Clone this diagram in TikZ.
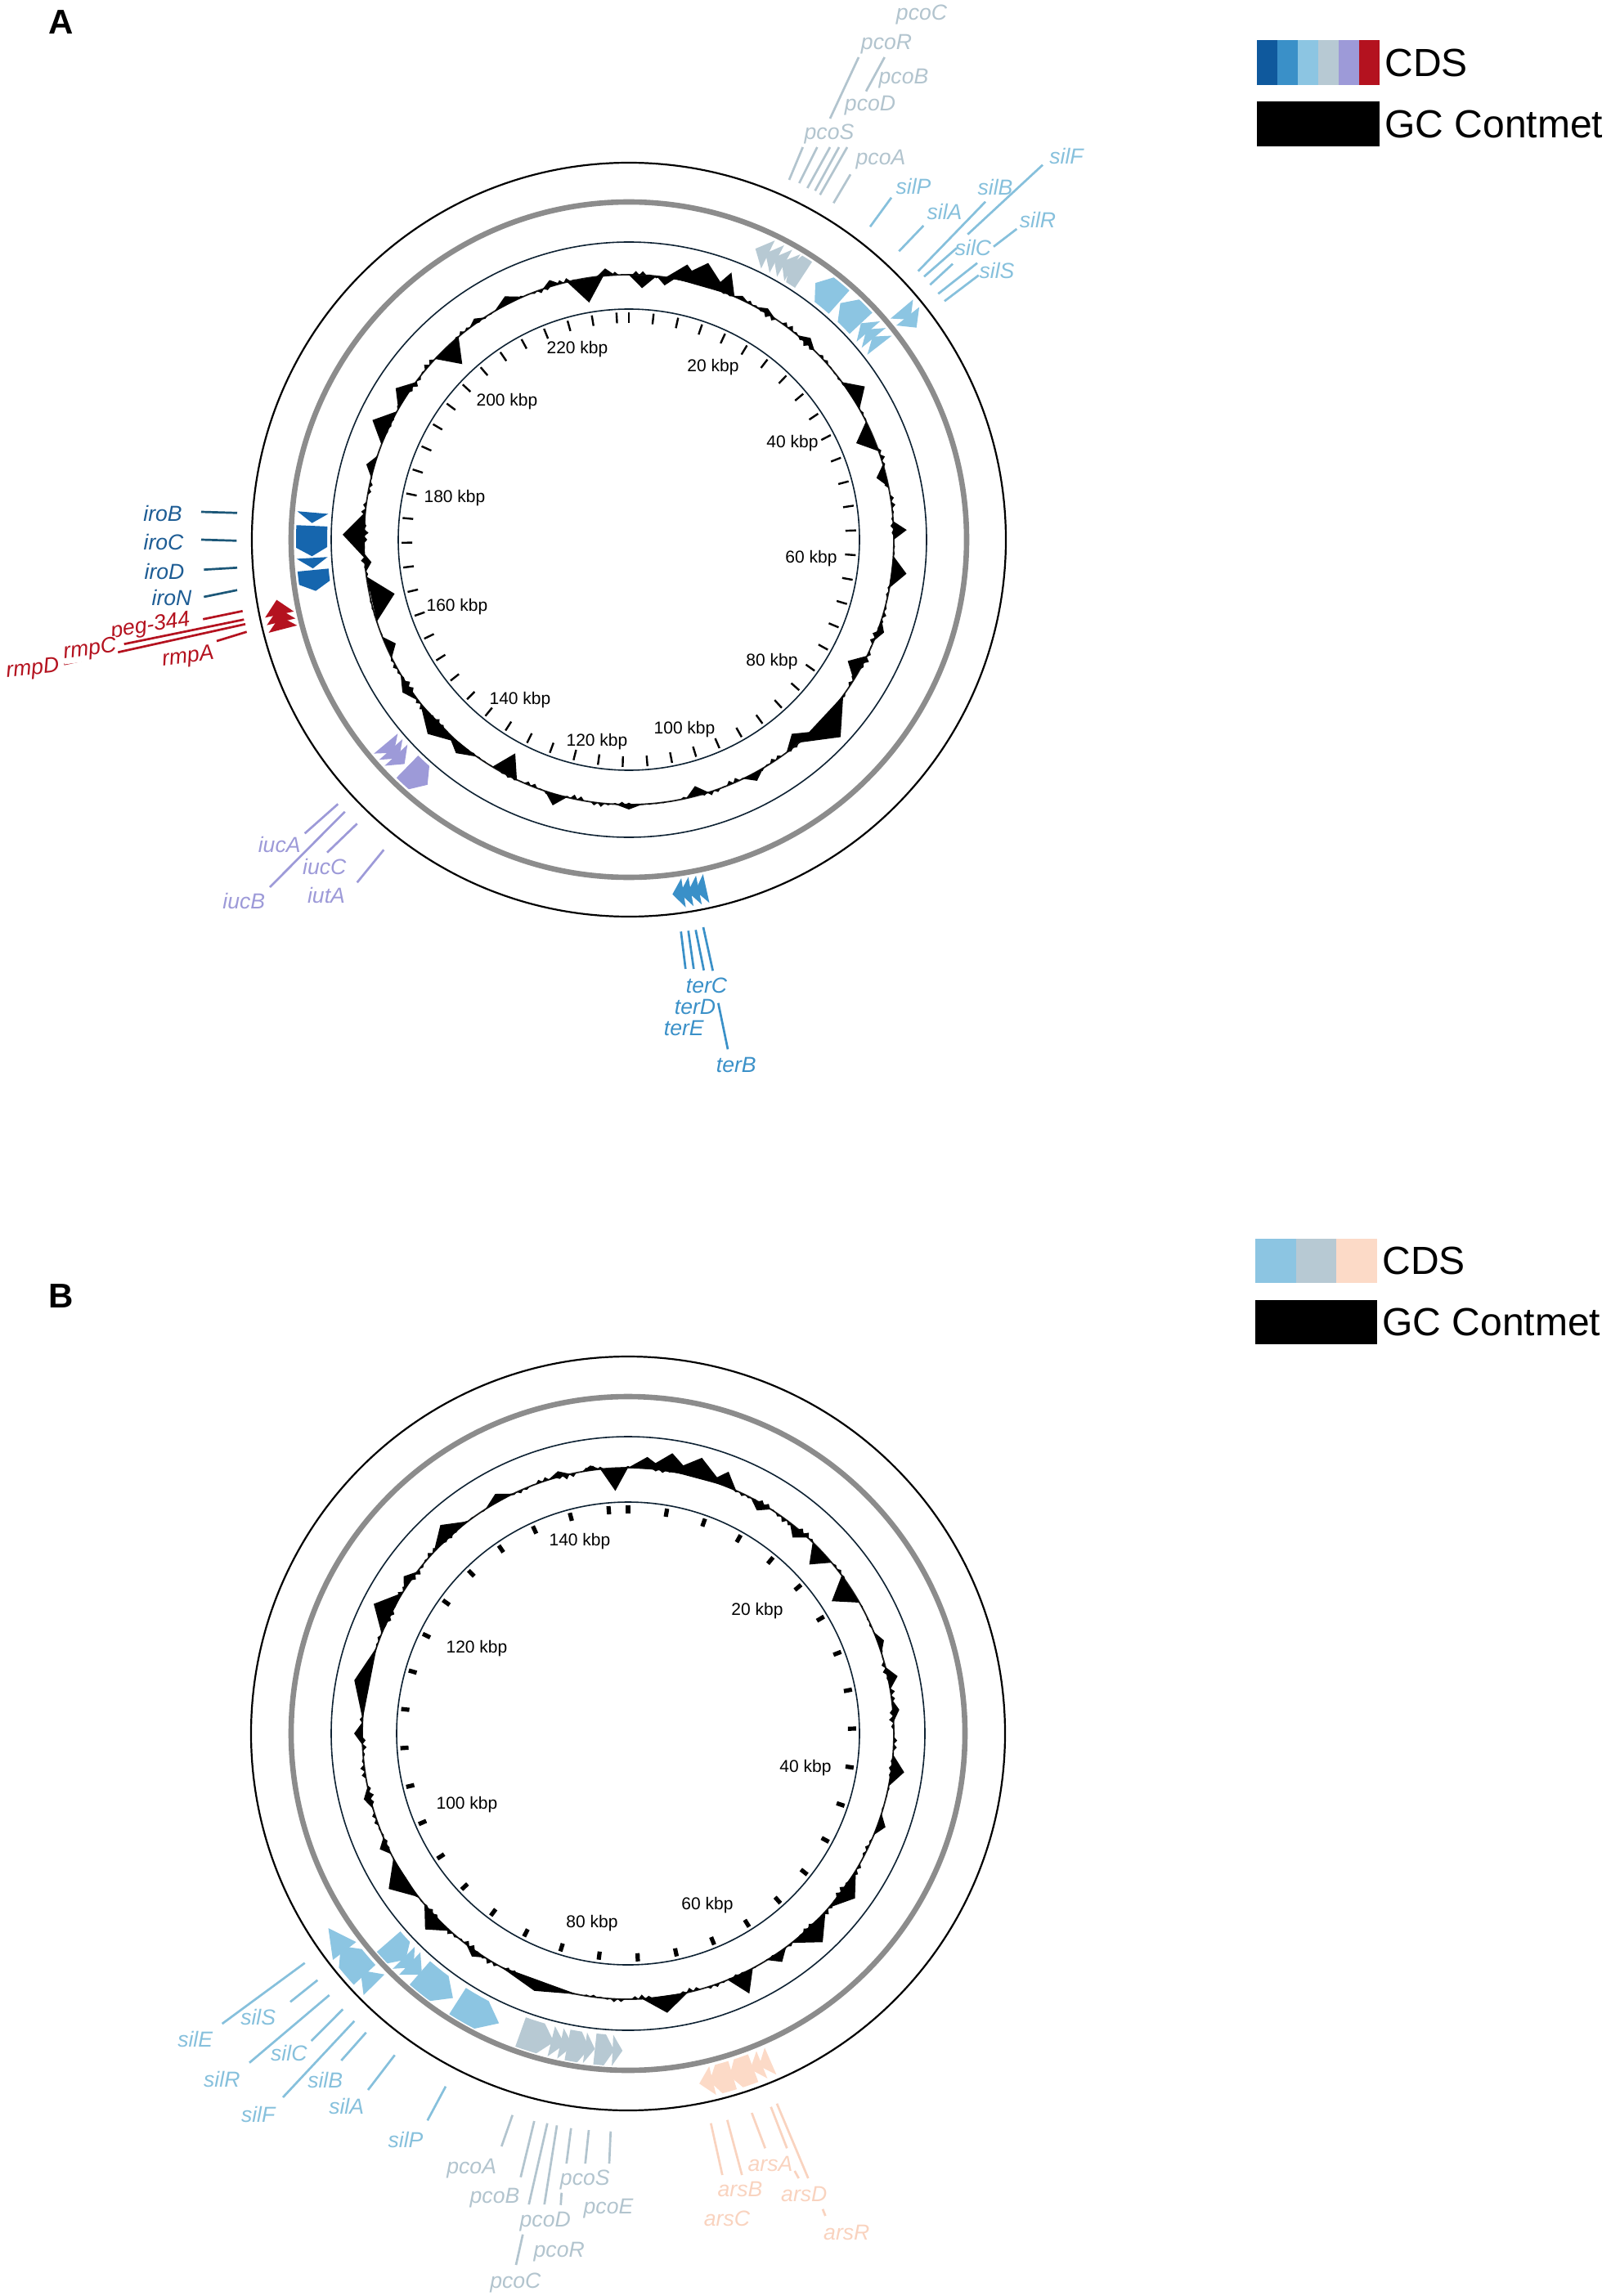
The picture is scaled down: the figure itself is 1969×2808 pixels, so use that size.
\documentclass[tikz,border=0pt]{standalone}
\usepackage{fontspec}
\setmainfont{Liberation Sans}
\definecolor{cIro}{HTML}{1666AE}
\definecolor{cIroT}{HTML}{1D5C94}
\definecolor{cIroL}{HTML}{1C5778}
\definecolor{cTer}{HTML}{3A90C8}
\definecolor{cSil}{HTML}{8CC5E2}
\definecolor{cSilT}{HTML}{86C0DC}
\definecolor{cPco}{HTML}{B7C9D3}
\definecolor{cPcoT}{HTML}{B2C4CE}
\definecolor{cIuc}{HTML}{9D9AD8}
\definecolor{cRmp}{HTML}{B4121F}
\definecolor{cArs}{HTML}{FCDAC7}
\definecolor{cArsT}{HTML}{F9D3BF}
\definecolor{cLeg1}{HTML}{0F599D}
\definecolor{cNavy}{HTML}{0E2233}
\definecolor{cGray}{HTML}{8C8C8C}
\newcommand\myArrow[6]{\fill[#1] plot[domain=#2:#4,samples=4] ({\x-90}:#6) -- ({#3-90}:{(#5+#6)/2}) -- plot[domain=#4:#2,samples=4] ({\x-90}:#5) -- cycle;}
\newcommand\myHead[5]{\fill[#1] ({#2-90}:#4) -- ({#2-90}:#5) -- ({#3-90}:{(#4+#5)/2}) -- cycle;}
\newcommand\myRG[4]{\myArrow{#1}{#2}{#3}{#4}{369}{407}}
\newcommand\myFG[4]{\myArrow{#1}{#2}{#3}{#4}{419}{455}}
\newcommand\myRH[3]{\myHead{#1}{#2}{#3}{369}{407}}
\newcommand\myFH[3]{\myHead{#1}{#2}{#3}{419}{455}}
\newcommand\myLead[4]{\coordinate (#1a) at (#3); \coordinate (#1b) at (#4); \draw[lead,#2] (#1a) -- (#1b);}
\newcommand\mySpike[4]{\fill[black] ({#1-(#3)-90}:#4) -- ({#1-90}:{#4+(#2)}) -- ({#1+(#3)-90}:#4) -- cycle;}
\begin{document}
\begin{tikzpicture}[x=0.5pt,y=-0.5pt,
  gl/.style={font=\fontsize{13.3}{15}\selectfont\itshape, inner sep=0pt},
  kl/.style={font=\fontsize{10.5}{12}\selectfont, inner sep=0pt},
  lead/.style={line width=1.35pt},
  leg/.style={font=\fontsize{24}{28}\selectfont, anchor=west, inner sep=0pt},
  panel/.style={font=\fontsize{21}{24}\selectfont\bfseries, inner sep=0pt},
  legbox/.style={rectangle, inner sep=0pt, anchor=north west, draw=none},
  ringout/.style={line width=1.1pt, black},
  ringmid/.style={line width=3.3pt, cGray},
  ringin/.style={line width=0.8pt, cNavy},
  gcbase/.style={line width=0.9pt, black!85},
  tickA/.style={line width=1.2pt, black},
  tickB/.style={line width=2.6pt, black}
]
\useasboundingbox (0,0) rectangle (1969,2808);
% ================= PANEL A =================
\node[panel] (pA) at (75,27) {A};
\begin{scope}[shift={(769,660)}]
  \draw[gcbase] (0,0) circle[radius=324];
  \foreach \k in {0,...,239} {
    \pgfmathsetmacro\amp{3.4*sin(\k*47.3)+2.2*sin(\k*61.1+20)}
    \mySpike{\k*1.5}{\amp}{0.8}{324}
  }
  \foreach \c/\a/\w in {355/9/2, 3/-16/3, 8/-10/2, 12/20/4, 16/28/6, 21/26/2.5, 25/5/2, 350.5/-30/4, 343/8/2, 333/10/3.5, 325/6/2, 316.5/-28/3.5, 303/16/3.5, 295/22/4, 286/10/2.5, 271/26/5, 265/-8/2, 257/-30/5, 246/-12/2.5, 236/10/3.5, 226/18/6, 219/12/4, 208/-28/3, 196/14/2.5, 180/6/3, 165/-12/2.5, 152/10/2.5, 140/-14/3.5, 133/30/7, 119/-18/3, 110/8/2.5, 97/18/3.5, 88/16/2, 76/-12/2.5, 67/-22/3.5, 57/20/3.5, 42/8/2.5, 31/6/2.5}
    {\mySpike{\c}{\a}{\w}{324}}
  \draw[ringout] (0,0) circle[radius=461];
  \draw[ringmid] (0,0) circle[radius=413];
  \draw[ringin] (0,0) circle[radius=364];
  \draw[ringin] (0,0) circle[radius=282];
  \foreach \k in {0,...,57} \draw[tickA] ({\k*6.2609-90}:265) -- ({\k*6.2609-90}:278);
  % iro (reverse)
  \myRH{cIro}{274.9}{273.0}
  \myRG{cIro}{272.5}{267.0}{268.6}
  \myRH{cIro}{266.7}{264.8}
  \myRG{cIro}{264.5}{260.7}{262.2}
  % rmp (forward)
  \myFH{cRmp}{255.5}{257.6}
  \myFH{cRmp}{256.7}{258.9}
  \myFH{cRmp}{257.9}{260.3}
  % ter (forward)
  \myFH{cTer}{171.2}{173.0}
  \myFH{cTer}{170.0}{171.8}
  \myFH{cTer}{168.7}{170.5}
  \myFH{cTer}{167.5}{169.3}
  % pco (reverse)
  \myRH{cPco}{26}{23.5}
  \myRH{cPco}{27.8}{25.5}
  \myRH{cPco}{29.4}{27.2}
  \myRH{cPco}{31}{28.8}
  \myRG{cPco}{33.4}{30.4}{31.4}
  % sil (reverse and forward)
  \myRG{cSil}{41.5}{36}{38}
  \myRG{cSil}{47}{41.8}{43.8}
  \myRH{cSil}{49}{47}
  \myRH{cSil}{50.5}{48.5}
  \myRH{cSil}{52.2}{50.2}
  \myFH{cSil}{49.8}{52}
  \myFH{cSil}{51.3}{53.6}
  % iuc (reverse)
  \myRH{cIuc}{230}{227.8}
  \myRH{cIuc}{228.6}{226.4}
  \myRH{cIuc}{227.2}{225}
  \myRG{cIuc}{224.3}{219.4}{221.4}
\end{scope}
% tick labels A
\node[kl] (kA20) at (872,449) {20 kbp};
\node[kl] (kA40) at (969,542) {40 kbp};
\node[kl] (kA60) at (992,683) {60 kbp};
\node[kl] (kA80) at (944,809) {80 kbp};
\node[kl] (kA100) at (837,892) {100 kbp};
\node[kl] (kA120) at (730,907) {120 kbp};
\node[kl] (kA140) at (636,856) {140 kbp};
\node[kl] (kA160) at (559,742) {160 kbp};
\node[kl] (kA180) at (556,609) {180 kbp};
\node[kl] (kA200) at (620,491) {200 kbp};
\node[kl] (kA220) at (706,427) {220 kbp};
% leader lines A
\myLead{pA1}{cPcoT}{1050,70}{1015,145}
\myLead{pA2}{cPcoT}{1081.7,70}{1059,111.7}
\myLead{pA3}{cPcoT}{981.7,180}{965,220}
\myLead{pA4}{cPcoT}{999.3,180}{977.3,224}
\myLead{pA5}{cPcoT}{1015,180}{987.3,230}
\myLead{pA6}{cPcoT}{1026,180}{996.7,233.3}
\myLead{pA7}{cPcoT}{1036,180}{1002.7,238.3}
\myLead{pA8}{cPcoT}{1040,213.3}{1019.3,248.3}
\myLead{sA1}{cSilT}{1090,241.7}{1064,277.3}
\myLead{sA2}{cSilT}{1129.3,276}{1099.3,307.3}
\myLead{sA3}{cSilT}{1205,246.7}{1122.7,331.7}
\myLead{sA4}{cSilT}{1275,201.7}{1183.3,286.7}
\myLead{sA5}{cSilT}{1170,303.3}{1130,338.3}
\myLead{sA6}{cSilT}{1165,322.7}{1137.3,348.3}
\myLead{sA7}{cSilT}{1195,321.7}{1147.3,359.3}
\myLead{sA8}{cSilT}{1196.7,336.7}{1155,368.3}
\myLead{sA9}{cSilT}{1243.3,280}{1215,301.7}
\myLead{iA1}{cIroL}{246,626}{290,627.3}
\myLead{iA2}{cIroL}{246,660}{289.3,661.3}
\myLead{iA3}{cIroL}{249.3,696.7}{290,694.3}
\myLead{iA4}{cIroL}{249.3,730}{290,721.7}
\myLead{rA1}{cRmp}{248.3,757.3}{296.7,747.3}
\myLead{rA2}{cRmp}{151.7,787.7}{298.3,757.7}
\myLead{rA3}{cRmp}{78.3,812.3}{300,763.3}
\myLead{rA4}{cRmp}{265,784}{301.7,772.7}
\myLead{uA1}{cIuc}{372.7,1019.3}{413.3,983.3}
\myLead{uA2}{cIuc}{330,1085}{421.7,992.7}
\myLead{uA3}{cIuc}{400,1042.7}{436.7,1007.3}
\myLead{uA4}{cIuc}{436.7,1079.3}{469.3,1039.3}
\myLead{tA1}{cTer}{832.7,1139.3}{838.3,1185}
\myLead{tA2}{cTer}{841.7,1138.3}{848.3,1185}
\myLead{tA3}{cTer}{850.7,1137.3}{860.7,1186.7}
\myLead{tA4}{cTer}{860,1134}{871.7,1187.3}
\myLead{tA5}{cTer}{878.3,1226.7}{890,1283.3}
% gene labels A
\node[gl,cPcoT] (lApcoC) at (1127,18) {pcoC};
\node[gl,cPcoT] (lApcoR) at (1084,54) {pcoR};
\node[gl,cPcoT] (lApcoB) at (1105,96) {pcoB};
\node[gl,cPcoT] (lApcoD) at (1064,129) {pcoD};
\node[gl,cPcoT] (lApcoS) at (1014,164) {pcoS};
\node[gl,cPcoT] (lApcoA) at (1077,195) {pcoA};
\node[gl,cSilT] (lAsilF) at (1304,191) {silF};
\node[gl,cSilT] (lAsilP) at (1117,228) {silP};
\node[gl,cSilT] (lAsilB) at (1217,229) {silB};
\node[gl,cSilT] (lAsilA) at (1155,259) {silA};
\node[gl,cSilT] (lAsilR) at (1269,269) {silR};
\node[gl,cSilT] (lAsilC) at (1190,303) {silC};
\node[gl,cSilT] (lAsilS) at (1219,331) {silS};
\node[gl,cIroT] (lAiroB) at (199,628) {iroB};
\node[gl,cIroT] (lAiroC) at (200,663) {iroC};
\node[gl,cIroT] (lAiroD) at (201,699) {iroD};
\node[gl,cIroT] (lAiroN) at (210,731) {iroN};
\node[gl,cRmp,rotate=9] (lApeg) at (184,766) {peg-344};
\node[gl,cRmp,rotate=8,fill=white,inner sep=0.5pt] (lArmpC) at (110,795) {rmpC};
\node[gl,cRmp,rotate=6] (lArmpD) at (40,819) {rmpD};
\node[gl,cRmp,rotate=8] (lArmpA) at (230,804) {rmpA};
\node[gl,cIuc] (lAiucA) at (341.7,1033.3) {iucA};
\node[gl,cIuc] (lAiucC) at (396.7,1060) {iucC};
\node[gl,cIuc] (lAiucB) at (298.3,1101.7) {iucB};
\node[gl,cIuc] (lAiutA) at (399,1095) {iutA};
\node[gl,cTer] (lAterC) at (864,1205.7) {terC};
\node[gl,cTer] (lAterD) at (850,1231.7) {terD};
\node[gl,cTer] (lAterE) at (836.3,1257.3) {terE};
\node[gl,cTer] (lAterB) at (900.3,1302) {terB};
% legend A
\node[legbox,fill=cLeg1,minimum width=12.5pt,minimum height=27.5pt] (legA1) at (1537,49) {};
\node[legbox,fill=cTer,minimum width=12.5pt,minimum height=27.5pt] (legA2) at (1562,49) {};
\node[legbox,fill=cSil,minimum width=12.5pt,minimum height=27.5pt] (legA3) at (1587,49) {};
\node[legbox,fill=cPco,minimum width=12.5pt,minimum height=27.5pt] (legA4) at (1612,49) {};
\node[legbox,fill=cIuc,minimum width=12.5pt,minimum height=27.5pt] (legA5) at (1637,49) {};
\node[legbox,fill=cRmp,minimum width=12.5pt,minimum height=27.5pt] (legA6) at (1662,49) {};
\node[legbox,fill=black,minimum width=75pt,minimum height=27.5pt] (legAgc) at (1537,124) {};
\node[leg] (legAcds) at (1693,77) {CDS};
\node[leg] (legAgct) at (1693,152) {GC Contmet};
% ================= PANEL B =================
\node[panel] (pB) at (75,1585) {B};
\begin{scope}[shift={(768,2120)}]
  \draw[gcbase] (0,0) circle[radius=325];
  \foreach \k in {0,...,239} {
    \pgfmathsetmacro\amp{3.4*sin(\k*53.9+40)+2.2*sin(\k*41.7)}
    \mySpike{\k*1.5}{\amp}{0.8}{325}
  }
  \foreach \c/\a/\w in {4/14/4, 9/22/5, 15/24/6, 21/18/3, 357/-28/3, 352/6/2, 345/7/2.5, 331/10/3.5, 318/18/5, 305/10/2.5, 297/24/5, 281/16/8, 270/10/2.5, 256/8/2.5, 245/10/2, 237/24/5, 226/20/4, 215/8/2.5, 200/10/9, 172/20/5, 155/26/3, 146/12/2.5, 137/24/5, 126/18/5, 110/10/2.5, 98/16/3.5, 85/8/2.5, 78/12/2.5, 70/8/2.5, 57/-28/3.5, 47/-22/3, 40/-12/2.5, 30/-10/2.5}
    {\mySpike{\c}{\a}{\w}{325}}
  \draw[ringout] (0,0) circle[radius=461];
  \draw[ringmid] (0,0) circle[radius=412];
  \draw[ringin] (0,0) circle[radius=363];
  \draw[ringin] (0,0) circle[radius=283];
  \foreach \k in {0,...,36} \draw[tickB] ({\k*9.863-90}:269) -- ({\k*9.863-90}:279);
  % sil forward
  \myFH{cSil}{232.5}{237}
  \myFG{cSil}{227.5}{233.5}{231}
  \myFH{cSil}{225.3}{228.5}
  % sil reverse
  \myRG{cSil}{229}{224.5}{226.3}
  \myRH{cSil}{225}{222.5}
  \myRH{cSil}{223.5}{220.5}
  \myRG{cSil}{221}{213.5}{216.5}
  \myRG{cSil}{212.5}{204}{207.5}
  % pco reverse
  \myRG{cPco}{199.8}{193.5}{196}
  \myRH{cPco}{194}{191.5}
  \myRH{cPco}{192.3}{190}
  \myRG{cPco}{191}{187}{188.8}
  \myRH{cPco}{187.8}{186}
  \myRG{cPco}{186}{182.5}{184.2}
  \myRH{cPco}{182.8}{181}
  % ars forward
  \myFH{cArs}{166.3}{168.5}
  \myFG{cArs}{163}{166.8}{165.3}
  \myFG{cArs}{159.5}{163.5}{162}
  \myFH{cArs}{158}{160}
  \myFH{cArs}{156.5}{158.5}
\end{scope}
\node[kl] (kB20) at (926,1970) {20 kbp};
\node[kl] (kB40) at (985,2162) {40 kbp};
\node[kl] (kB60) at (865,2330) {60 kbp};
\node[kl] (kB80) at (724,2352) {80 kbp};
\node[kl] (kB100) at (571,2207) {100 kbp};
\node[kl] (kB120) at (583,2016) {120 kbp};
\node[kl] (kB140) at (709,1885) {140 kbp};
% leader lines B
\myLead{sB1}{cSilT}{271.7,2475}{372.7,2400.7}
\myLead{sB2}{cSilT}{355,2448.3}{388.3,2421.7}
\myLead{sB3}{cSilT}{305,2522.7}{402.7,2440}
\myLead{sB4}{cSilT}{380.7,2496}{419.3,2457.3}
\myLead{sB5}{cSilT}{346,2565}{433.3,2471.7}
\myLead{sB6}{cSilT}{417.3,2520}{447.7,2485.7}
\myLead{sB7}{cSilT}{450,2556}{482.7,2513.3}
\myLead{sB8}{cSilT}{522.7,2593.3}{545,2551.7}
\myLead{pB1}{cPcoT}{626.7,2586.7}{613.3,2625}
\myLead{pB2}{cPcoT}{653.3,2594}{636.7,2662.7}
\myLead{pB3}{cPcoT}{669.3,2596.7}{646.7,2696}
\myLead{pB4}{cPcoT}{681,2599.3}{665.7,2696}
\myLead{pB5}{cPcoT}{698.3,2602.7}{692.7,2646}
\myLead{pB6}{cPcoT}{720,2605}{715.7,2646}
\myLead{pB7}{cPcoT}{746.7,2606.7}{745,2646}
\myLead{pB8}{cPcoT}{686.7,2681.7}{685.7,2696.7}
\myLead{pB9}{cPcoT}{639.3,2732.7}{631,2770}
\myLead{aB1}{cArsT}{869.3,2596.7}{883.3,2660}
\myLead{aB2}{cArsT}{889.3,2592.7}{907.3,2660}
\myLead{aB3}{cArsT}{919.3,2584}{935.7,2627.3}
\myLead{aB4}{cArsT}{942.7,2576.7}{962.3,2627.3}
\myLead{aB5}{cArsT}{950,2572.7}{988.3,2664}
\myLead{aB6}{cArsT}{971.7,2655}{976.7,2664}
\myLead{aB7}{cArsT}{1006,2701.7}{1009.3,2710}
% gene labels B
\node[gl,cSilT] (lBsilE) at (238.7,2494) {silE};
\node[gl,cSilT] (lBsilS) at (315.7,2467.3) {silS};
\node[gl,cSilT] (lBsilC) at (353.3,2510.7) {silC};
\node[gl,cSilT] (lBsilR) at (271.3,2543.3) {silR};
\node[gl,cSilT] (lBsilB) at (397.7,2544) {silB};
\node[gl,cSilT] (lBsilF) at (315.7,2585.7) {silF};
\node[gl,cSilT] (lBsilA) at (423.7,2575.7) {silA};
\node[gl,cSilT] (lBsilP) at (496,2616.7) {silP};
\node[gl,cPcoT] (lBpcoA) at (576.7,2652.3) {pcoA};
\node[gl,cPcoT] (lBpcoB) at (605,2688) {pcoB};
\node[gl,cPcoT] (lBpcoS) at (715.3,2665.7) {pcoS};
\node[gl,cPcoT] (lBpcoD) at (666.7,2716.7) {pcoD};
\node[gl,cPcoT] (lBpcoE) at (744,2701.3) {pcoE};
\node[gl,cPcoT] (lBpcoR) at (683.7,2754) {pcoR};
\node[gl,cPcoT] (lBpcoC) at (630.3,2791.7) {pcoC};
\node[gl,cArsT] (lBarsA) at (942,2646.7) {arsA};
\node[gl,cArsT] (lBarsB) at (905,2677.3) {arsB};
\node[gl,cArsT] (lBarsD) at (983.3,2683.3) {arsD};
\node[gl,cArsT] (lBarsC) at (889,2713.3) {arsC};
\node[gl,cArsT] (lBarsR) at (1035.3,2730) {arsR};
% legend B
\node[legbox,fill=cSil,minimum width=25pt,minimum height=27pt] (legB1) at (1535,1515) {};
\node[legbox,fill=cPco,minimum width=25pt,minimum height=27pt] (legB2) at (1584.5,1515) {};
\node[legbox,fill=cArs,minimum width=25pt,minimum height=27pt] (legB3) at (1634,1515) {};
\node[legbox,fill=black,minimum width=74.5pt,minimum height=27pt] (legBgc) at (1535,1590) {};
\node[leg] (legBcds) at (1690,1542) {CDS};
\node[leg] (legBgct) at (1690,1617) {GC Contmet};
\end{tikzpicture}
\end{document}
